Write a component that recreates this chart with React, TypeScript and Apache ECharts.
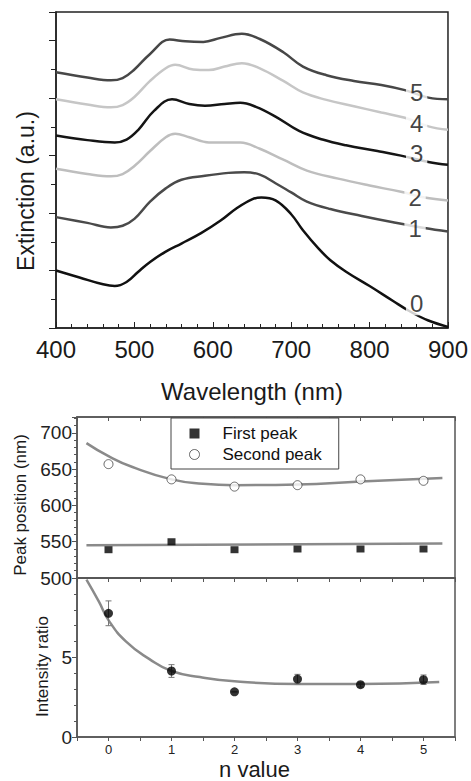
import React, { useEffect, useRef } from "react";
import * as echarts from "echarts";

// ---- Top panel: extinction spectra (wavelength nm, offset extinction a.u.)
const curve0: [number, number][] = [
  [400, 1.0], [430, 0.88], [460, 0.76], [475, 0.73], [490, 0.8], [505, 0.98], [520, 1.15],
  [540, 1.33], [560, 1.47], [585, 1.65], [610, 1.87], [630, 2.08], [650, 2.24], [662, 2.27],
  [680, 2.22], [700, 1.98], [715, 1.7], [735, 1.38], [750, 1.18], [770, 0.98], [800, 0.73],
  [830, 0.47], [850, 0.3], [875, 0.13], [900, 0.02],
];
const curve1: [number, number][] = [
  [400, 1.93], [440, 1.83], [470, 1.75], [485, 1.78], [500, 1.9], [520, 2.2], [540, 2.43],
  [560, 2.58], [590, 2.65], [620, 2.7], [640, 2.71], [660, 2.67], [680, 2.52], [700, 2.36],
  [720, 2.2], [750, 2.07], [790, 1.95], [830, 1.84], [870, 1.74], [900, 1.68],
];
const curve2: [number, number][] = [
  [400, 2.77], [440, 2.68], [470, 2.64], [485, 2.68], [500, 2.82], [520, 3.08], [540, 3.32],
  [552, 3.38], [570, 3.32], [595, 3.23], [615, 3.23], [635, 3.23], [660, 3.12], [690, 2.93],
  [720, 2.74], [760, 2.6], [800, 2.48], [840, 2.37], [870, 2.27], [900, 2.22],
];
const curve3: [number, number][] = [
  [400, 3.35], [440, 3.27], [475, 3.23], [490, 3.28], [505, 3.45], [525, 3.78], [548, 3.98],
  [570, 3.9], [590, 3.87], [615, 3.9], [635, 3.92], [655, 3.85], [680, 3.68], [710, 3.43],
  [740, 3.28], [770, 3.18], [810, 3.08], [840, 3.0], [875, 2.89], [900, 2.84],
];
const curve4: [number, number][] = [
  [400, 3.98], [440, 3.89], [470, 3.84], [485, 3.88], [500, 4.02], [520, 4.3], [540, 4.52],
  [552, 4.58], [575, 4.5], [595, 4.49], [615, 4.55], [637, 4.61], [660, 4.52], [690, 4.3],
  [715, 4.1], [745, 3.97], [780, 3.86], [815, 3.75], [845, 3.66], [875, 3.51], [900, 3.45],
];
const curve5: [number, number][] = [
  [400, 4.45], [440, 4.36], [470, 4.31], [485, 4.35], [500, 4.5], [520, 4.77], [545, 5.02],
  [565, 4.99], [588, 4.98], [610, 5.05], [637, 5.12], [660, 5.03], [690, 4.8], [715, 4.55],
  [745, 4.4], [780, 4.3], [815, 4.23], [845, 4.14], [875, 4.01], [900, 3.98],
];
const curveNames = ["0", "1", "2", "3", "4", "5"];
const curveColors = ["#111111", "#4a4a4a", "#bebebe", "#151515", "#c6c6c6", "#474747"];
const labelWavelengths = [860, 858, 858, 860, 860, 860];
const labelLevels = [0.43, 1.74, 2.27, 3.04, 3.56, 4.1];
const wavelengthTicks = [400, 500, 600, 700, 800, 900];

// ---- Middle panel: peak positions vs n
const nValues = [0, 1, 2, 3, 4, 5];
const firstPeak = [539, 550, 539, 540, 540, 540];
const secondPeak = [657, 636, 626, 628, 636, 634];
const firstPeakFit: [number, number][] = [[-0.35, 545], [5.3, 547.5]];
const secondPeakFit: [number, number][] = [
  [-0.35, 686], [0, 668], [0.38, 653], [1, 636], [1.5, 630], [2, 628], [3, 629], [4, 633], [5.3, 638],
];

// ---- Bottom panel: intensity ratio vs n
const intensityRatio = [7.78, 4.15, 2.84, 3.64, 3.29, 3.6];
const intensityError = [0.78, 0.4, 0, 0.3, 0.15, 0.3];
const intensityFit: [number, number][] = [
  [-0.35, 9.9], [-0.15, 8.5], [0, 7.35], [0.28, 6.0], [0.65, 4.9], [1, 4.15], [1.45, 3.77],
  [2, 3.5], [3, 3.33], [4, 3.33], [5.25, 3.46],
];

const FONT = "'Liberation Sans', Arial, Helvetica, sans-serif";

export default function App() {
  const ref = useRef<HTMLDivElement>(null);
  useEffect(() => {
    document.body.style.margin = "0";
    if (!ref.current) return;
    const chart = echarts.init(ref.current, undefined, { renderer: "svg" });
    const curves = [curve0, curve1, curve2, curve3, curve4, curve5];

    const spectraSeries = curves.map((c, i) => ({
      name: "n=" + curveNames[i],
      type: "line",
      xAxisIndex: 0,
      yAxisIndex: 0,
      data: c,
      smooth: 0.4,
      showSymbol: false,
      symbol: "none",
      lineStyle: { color: curveColors[i], width: 2.5 },
      z: 3,
    }));

    const labelSeries = {
      type: "scatter",
      xAxisIndex: 0,
      yAxisIndex: 0,
      symbolSize: 1,
      itemStyle: { color: "rgba(0,0,0,0)" },
      data: curveNames.map((nm, i) => [labelWavelengths[i], labelLevels[i], nm]),
      label: {
        show: true,
        position: "inside",
        formatter: (p: any) => p.data[2],
        fontSize: 24,
        fontFamily: FONT,
        color: "#111",
        backgroundColor: "#fff",
        padding: [0, 4, 0, 4],
      },
      z: 10,
    };

    const axisLineDark = { show: true, onZero: false, lineStyle: { color: "#222", width: 1.5 } };
    const axisLineGray = { show: true, onZero: false, lineStyle: { color: "#555", width: 1.5 } };

    const option: any = {
      animation: false,
      textStyle: { fontFamily: FONT },
      grid: [
        { left: 56, top: 12, width: 392, height: 316, show: true, borderColor: "#222", borderWidth: 1.5 },
        { left: 77, top: 417, width: 378, height: 161, show: true, borderColor: "#555", borderWidth: 1.5 },
        { left: 77, top: 578, width: 378, height: 162, show: true, borderColor: "#555", borderWidth: 1.5 },
      ],
      legend: {
        left: 171,
        top: 418,
        orient: "vertical",
        selectedMode: false,
        backgroundColor: "#fff",
        borderColor: "#444",
        borderWidth: 1,
        borderRadius: 0,
        padding: [7, 17, 6, 18],
        itemGap: 4,
        itemWidth: 10,
        itemHeight: 10,
        textStyle: { fontSize: 17, color: "#111", fontFamily: FONT, padding: [0, 0, 0, 18] },
        data: [
          { name: "First peak", icon: "rect", itemStyle: { color: "#000" } },
          { name: "Second peak", icon: "circle", itemStyle: { color: "#fff", borderColor: "#444", borderWidth: 1 } },
        ],
      },
      xAxis: [
        {
          gridIndex: 0,
          type: "value",
          min: wavelengthTicks[0],
          max: wavelengthTicks[wavelengthTicks.length - 1],
          interval: 100,
          axisLine: axisLineDark,
          axisTick: { show: true, inside: true, length: 6, lineStyle: { color: "#222" } },
          minorTick: { show: true, splitNumber: 5, length: 4, lineStyle: { color: "#222" } },
          splitLine: { show: false },
          axisLabel: { fontSize: 24, color: "#1a1a1a", margin: 9 },
          name: "Wavelength (nm)",
          nameLocation: "middle",
          nameGap: 51,
          nameTextStyle: { fontSize: 24, color: "#1a1a1a" },
        },
        {
          gridIndex: 1,
          type: "value",
          min: -0.5,
          max: 5.5,
          interval: 0.5,
          axisLine: axisLineGray,
          axisTick: { show: true, inside: false, length: 4, lineStyle: { color: "#555" } },
          axisLabel: { show: false },
          splitLine: { show: false },
        },
        {
          gridIndex: 1,
          type: "value",
          position: "top",
          min: -0.5,
          max: 5.5,
          interval: 0.5,
          axisLine: axisLineGray,
          axisTick: { show: true, inside: true, length: 4, lineStyle: { color: "#555" } },
          axisLabel: { show: false },
          splitLine: { show: false },
        },
        {
          gridIndex: 2,
          type: "value",
          min: -0.5,
          max: 5.5,
          interval: 0.5,
          axisLine: axisLineGray,
          axisTick: { show: true, inside: false, length: 4, lineStyle: { color: "#555" } },
          axisLabel: {
            fontSize: 13,
            color: "#222",
            margin: 6,
            formatter: (v: number) => (Math.abs(v - Math.round(v)) < 1e-6 ? String(Math.round(v)) : ""),
          },
          splitLine: { show: false },
          name: "n value",
          nameLocation: "middle",
          nameGap: 21,
          nameTextStyle: { fontSize: 22, color: "#1a1a1a", padding: [0, 23, 0, 0] },
        },
      ],
      yAxis: [
        {
          gridIndex: 0,
          type: "value",
          min: 0,
          max: 5.5,
          interval: 1,
          axisLine: axisLineDark,
          axisTick: { show: true, inside: false, length: 7, lineStyle: { color: "#222" } },
          minorTick: { show: true, splitNumber: 2, length: 5, lineStyle: { color: "#222" } },
          axisLabel: { show: false },
          splitLine: { show: false },
          name: "Extinction (a.u.)",
          nameLocation: "middle",
          nameGap: 19,
          nameTextStyle: { fontSize: 23, color: "#1a1a1a", padding: [0, 42, 0, 0] },
        },
        {
          gridIndex: 1,
          type: "value",
          min: 500,
          max: 722,
          interval: 50,
          axisLine: axisLineGray,
          axisTick: { show: true, inside: false, length: 5, lineStyle: { color: "#555" } },
          minorTick: { show: true, splitNumber: 5, length: 3, lineStyle: { color: "#555" } },
          axisLabel: { fontSize: 19, color: "#222", margin: 5, showMaxLabel: false },
          splitLine: { show: false },
          name: "Peak position (nm)",
          nameLocation: "middle",
          nameGap: 44,
          nameTextStyle: { fontSize: 17, color: "#1a1a1a", padding: [0, 15, 0, 0] },
        },
        {
          gridIndex: 2,
          type: "value",
          min: 0,
          max: 10,
          interval: 5,
          axisLine: axisLineGray,
          axisTick: { show: true, inside: false, length: 5, lineStyle: { color: "#555" } },
          minorTick: { show: true, splitNumber: 5, length: 3, lineStyle: { color: "#555" } },
          axisLabel: { fontSize: 19, color: "#222", margin: 5, showMaxLabel: false },
          splitLine: { show: false },
          name: "Intensity ratio",
          nameLocation: "middle",
          nameGap: 26,
          nameTextStyle: { fontSize: 17, color: "#1a1a1a", padding: [0, 18, 0, 0] },
        },
      ],
      series: [
        ...spectraSeries,
        labelSeries,
        {
          name: "First peak fit",
          type: "line",
          xAxisIndex: 1,
          yAxisIndex: 1,
          data: firstPeakFit,
          showSymbol: false,
          symbol: "none",
          lineStyle: { color: "#8a8a8a", width: 2.5 },
          z: 2,
        },
        {
          name: "Second peak fit",
          type: "line",
          xAxisIndex: 1,
          yAxisIndex: 1,
          data: secondPeakFit,
          smooth: 0.5,
          showSymbol: false,
          symbol: "none",
          lineStyle: { color: "#8a8a8a", width: 2.5 },
          z: 2,
        },
        {
          name: "First peak",
          type: "scatter",
          xAxisIndex: 1,
          yAxisIndex: 1,
          symbol: "rect",
          symbolSize: [8, 7],
          itemStyle: { color: "#000" },
          data: nValues.map((n, i) => [n, firstPeak[i]]),
          z: 4,
        },
        {
          name: "Second peak",
          type: "scatter",
          xAxisIndex: 1,
          yAxisIndex: 1,
          symbol: "circle",
          symbolSize: 9,
          itemStyle: { color: "#fff", borderColor: "#444", borderWidth: 1 },
          data: nValues.map((n, i) => [n, secondPeak[i]]),
          z: 4,
        },
        {
          name: "Intensity fit",
          type: "line",
          xAxisIndex: 3,
          yAxisIndex: 2,
          data: intensityFit,
          smooth: 0.5,
          showSymbol: false,
          symbol: "none",
          lineStyle: { color: "#8a8a8a", width: 2.5 },
          z: 2,
        },
        {
          name: "Intensity error",
          type: "custom",
          xAxisIndex: 3,
          yAxisIndex: 2,
          data: nValues.map((n, i) => [n, intensityRatio[i] - intensityError[i], intensityRatio[i] + intensityError[i]]),
          renderItem: (params: any, api: any) => {
            const lo = api.coord([api.value(0), api.value(1)]);
            const hi = api.coord([api.value(0), api.value(2)]);
            const st = { stroke: "#777", lineWidth: 1 };
            return {
              type: "group",
              children: [
                { type: "line", shape: { x1: lo[0], y1: lo[1], x2: hi[0], y2: hi[1] }, style: st },
                { type: "line", shape: { x1: lo[0] - 3, y1: lo[1], x2: lo[0] + 3, y2: lo[1] }, style: st },
                { type: "line", shape: { x1: hi[0] - 3, y1: hi[1], x2: hi[0] + 3, y2: hi[1] }, style: st },
              ],
            };
          },
          z: 3,
        },
        {
          name: "Intensity ratio",
          type: "scatter",
          xAxisIndex: 3,
          yAxisIndex: 2,
          symbol: "circle",
          symbolSize: 9,
          itemStyle: { color: "#000" },
          data: nValues.map((n, i) => [n, intensityRatio[i]]),
          z: 4,
        },
      ],
    };
    chart.setOption(option);
    return () => chart.dispose();
  }, []);
  return <div ref={ref} style={{ width: 471, height: 781 }} />;
}
